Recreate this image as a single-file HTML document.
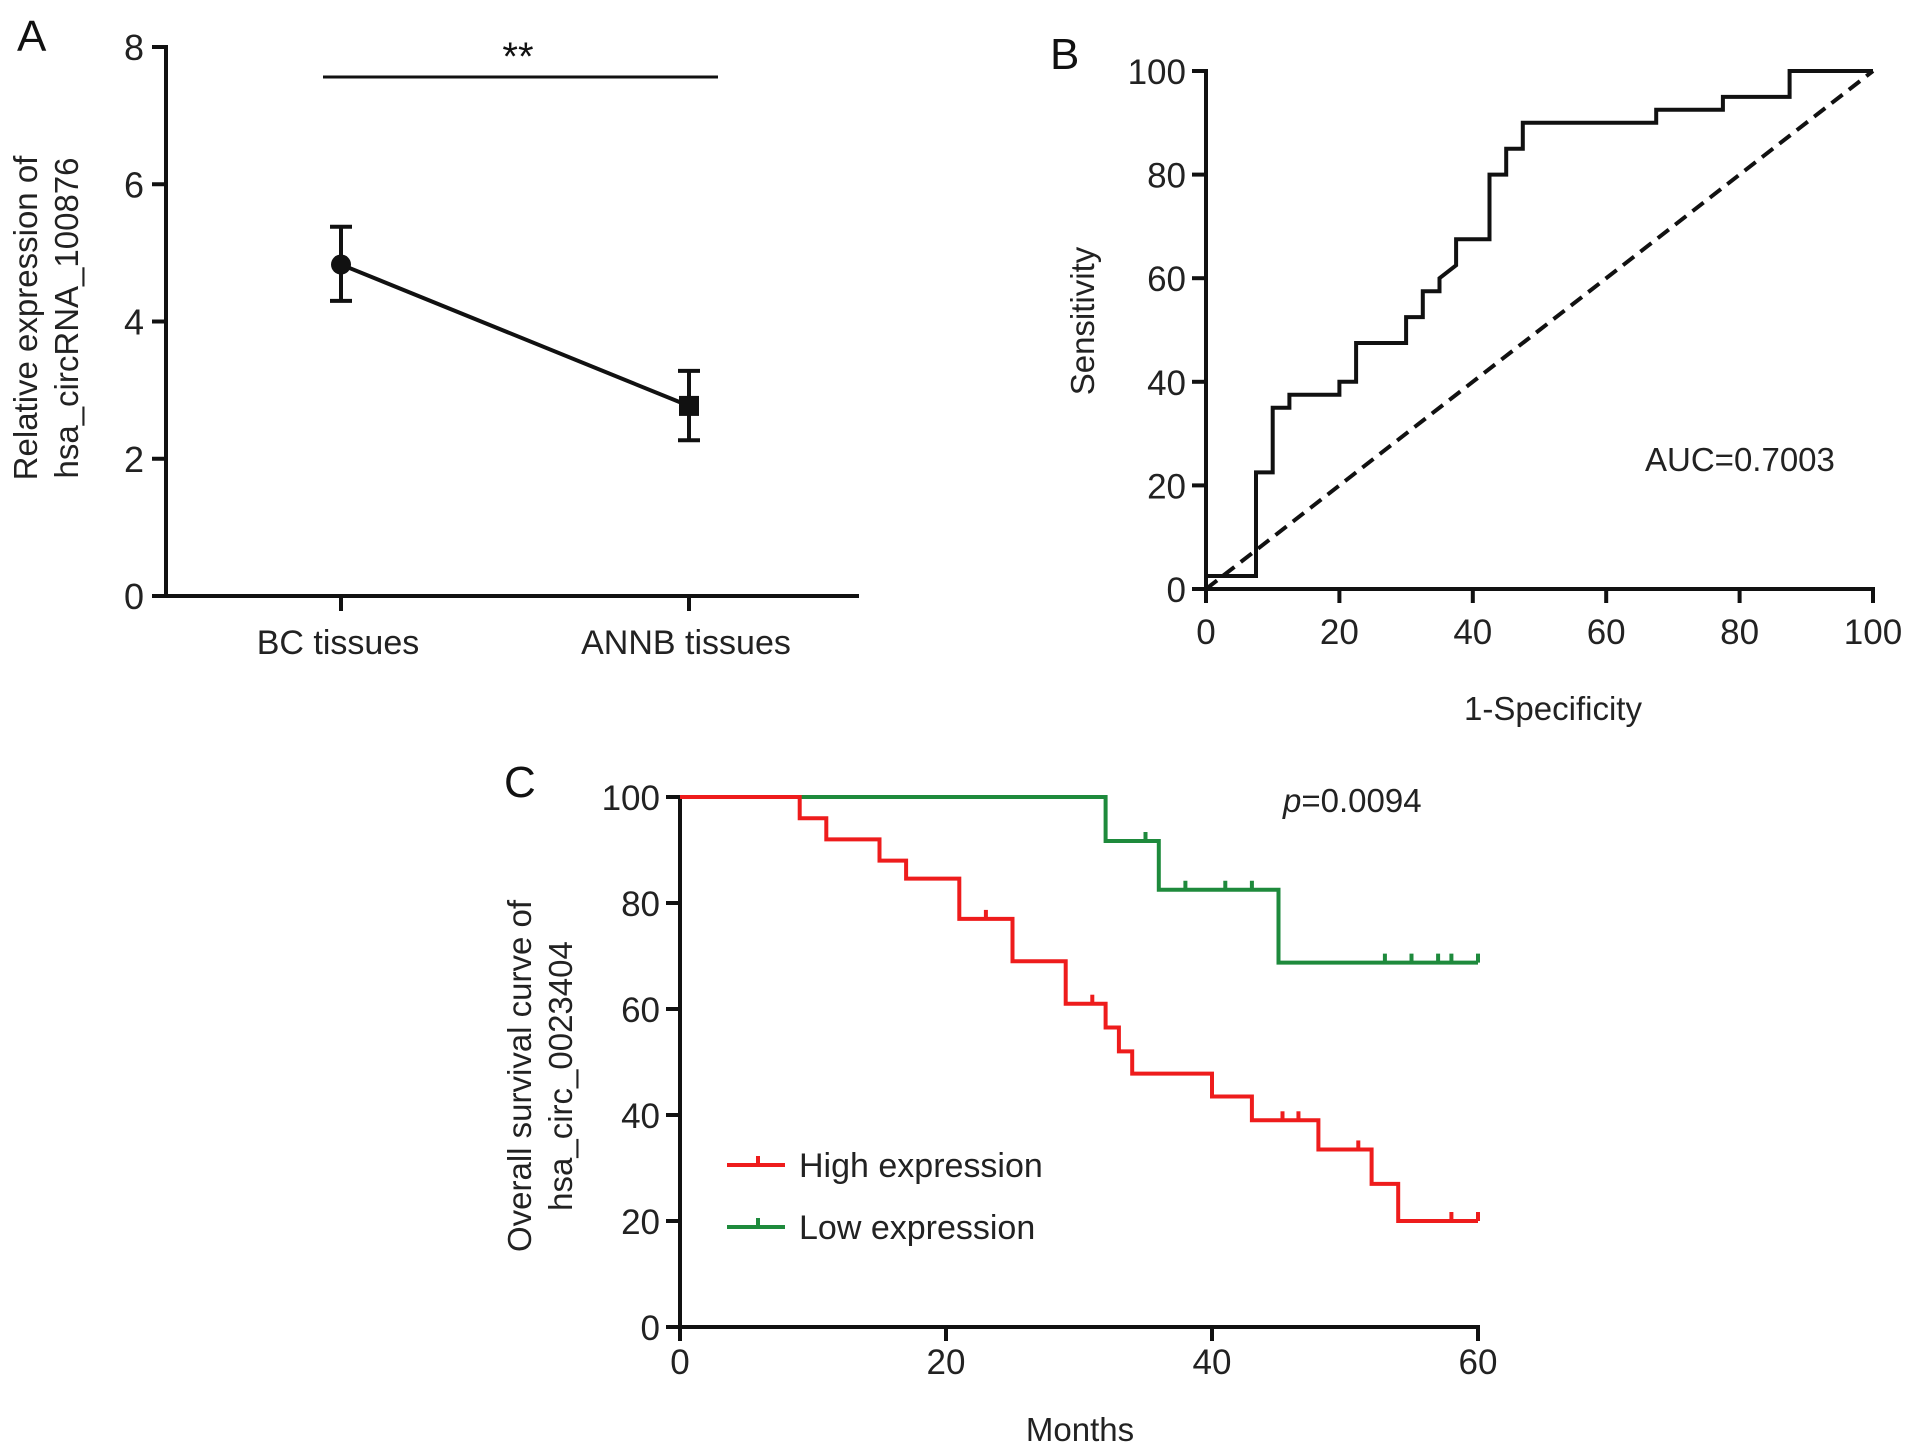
<!DOCTYPE html>
<html><head><meta charset="utf-8"><style>
html,body{margin:0;padding:0;background:#fff;overflow:hidden;}
svg{display:block;font-family:"Liberation Sans",Arial,sans-serif;}
</style></head><body>
<svg id="fig" width="1913" height="1453" viewBox="0 0 1913 1453" xmlns="http://www.w3.org/2000/svg">
<g id="gA"></g>
<g id="gB"></g>
<g id="gC"></g>
</svg>
<script>
// Panel A data
const aCategories = ["BC tissues", "ANNB tissues"];
const aMeans = [4.83, 2.77];
const aErrLow = [4.30, 2.27];
const aErrHigh = [5.38, 3.28];
const aTicks = [0, 2, 4, 6, 8];
// Panel B data
const rocFpr = [0,0,7.5,7.5,10,10,12.5,12.5,20,20,22.5,22.5,30,30,32.5,32.5,35,35,37.5,37.5,42.5,42.5,45,45,47.5,47.5,67.5,67.5,77.5,77.5,87.5,87.5,100];
const rocSens = [0,2.5,2.5,22.5,22.5,35,35,37.5,37.5,40,40,47.5,47.5,52.5,52.5,57.5,57.5,60,62.5,67.5,67.5,80,80,85,85,90,90,92.5,92.5,95,95,100,100];
const bTicks = [0, 20, 40, 60, 80, 100];
// Panel C data
const highTimes = [9, 11, 15, 17, 21, 25, 29, 32, 33, 34, 40, 43, 48, 52, 54];
const highSurv = [96, 92, 88, 84.6, 77, 69, 61, 56.5, 52, 47.8, 43.5, 39, 33.5, 27, 20];
const highCensor = [23, 31, 45.3, 46.5, 51, 58, 60];
const lowTimes = [32, 36, 45];
const lowSurv = [91.7, 82.5, 68.75];
const lowCensor = [35, 38, 41, 43, 53, 55, 57, 58, 60];
const cXTicks = [0, 20, 40, 60];
const cYTicks = [0, 20, 40, 60, 80, 100];

const NS = "http://www.w3.org/2000/svg";
function mk(parent, tag, attrs, text){
  const e = document.createElementNS(NS, tag);
  for (const k in attrs) e.setAttribute(k, attrs[k]);
  if (text !== undefined) e.textContent = text;
  parent.appendChild(e);
  return e;
}

// ---------- Panel A ----------
(function(){
  const g = document.getElementById('gA');
  const x0 = 166, yTop = 47, yBot = 596, xEnd = 859;
  const ys = v => yBot - v / 8 * (yBot - yTop);
  const catX = [341, 689];
  let t;
  t = mk(g,'text',{x:17,y:51,'font-size':44,fill:'#111'},'A');
   
  let ax = mk(g,'path',{d:`M${x0} ${yTop-2}V${yBot}H${xEnd}`,stroke:'#111','stroke-width':4,fill:'none'});
   
  aTicks.forEach(v=>{
    mk(g,'line',{x1:x0-14,x2:x0,y1:ys(v),y2:ys(v),stroke:'#111','stroke-width':4});
    const tt = mk(g,'text',{x:x0-22,y:ys(v)+13,'font-size':36,'text-anchor':'end',fill:'#222'},v);
     
  });
  aCategories.forEach((c,i)=>{
    mk(g,'line',{x1:catX[i],x2:catX[i],y1:yBot,y2:yBot+15,stroke:'#111','stroke-width':4});
    const tt = mk(g,'text',{x:catX[i]-3,y:654,'font-size':34,'text-anchor':'middle',fill:'#222'},c);
     
  });
  const yt = mk(g,'text',{transform:'translate(37,318) rotate(-90)','font-size':33,'text-anchor':'middle',fill:'#222'});
   
  mk(yt,'tspan',{x:0,y:0},'Relative expression of');
  mk(yt,'tspan',{x:0,y:41},'hsa_circRNA_100876');
  mk(g,'line',{x1:catX[0],y1:ys(aMeans[0]),x2:catX[1],y2:ys(aMeans[1]),stroke:'#111','stroke-width':4});
  aMeans.forEach((m,i)=>{
    const eb = mk(g,'path',{d:`M${catX[i]-11} ${ys(aErrHigh[i])}h22M${catX[i]} ${ys(aErrHigh[i])}V${ys(aErrLow[i])}M${catX[i]-11} ${ys(aErrLow[i])}h22`,stroke:'#111','stroke-width':4,fill:'none'});
     
  });
  const p1 = mk(g,'circle',{cx:catX[0],cy:ys(aMeans[0]),r:10,fill:'#111'});
   
  const p2 = mk(g,'rect',{x:catX[1]-10,y:ys(aMeans[1])-10,width:20,height:20,fill:'#111'});
   
  const sl = mk(g,'line',{x1:323,x2:718,y1:77,y2:77,stroke:'#111','stroke-width':3});
   
  const st = mk(g,'text',{x:518,y:70,'font-size':40,'text-anchor':'middle',fill:'#111'},'**');
   
})();

// ---------- Panel B ----------
(function(){
  const g = document.getElementById('gB');
  const x0 = 1206, x1 = 1873, yTop = 71, yBot = 589;
  const xs = v => x0 + v/100*(x1-x0);
  const ys = v => yBot - v/100*(yBot-yTop);
  let t = mk(g,'text',{x:1050,y:69,'font-size':44,fill:'#111'},'B');
   
  const ax = mk(g,'path',{d:`M${x0} ${yTop-2}V${yBot}H${x1+2}`,stroke:'#111','stroke-width':4,fill:'none'});
   
  bTicks.forEach(v=>{
    mk(g,'line',{x1:x0-14,x2:x0,y1:ys(v),y2:ys(v),stroke:'#111','stroke-width':4});
    const a = mk(g,'text',{x:x0-20,y:ys(v)+13,'font-size':35,'text-anchor':'end',fill:'#222'},v);
     
    mk(g,'line',{x1:xs(v),x2:xs(v),y1:yBot,y2:yBot+14,stroke:'#111','stroke-width':4});
    const b = mk(g,'text',{x:xs(v),y:644,'font-size':35,'text-anchor':'middle',fill:'#222'},v);
     
  });
  const yt = mk(g,'text',{transform:'translate(1094,321) rotate(-90)','font-size':33,'text-anchor':'middle',fill:'#222'},'Sensitivity');
   
  const xt = mk(g,'text',{x:1553,y:720,'font-size':33,'text-anchor':'middle',fill:'#222'},'1-Specificity');
   
  const dg = mk(g,'line',{x1:xs(0),y1:ys(0),x2:xs(100),y2:ys(100),stroke:'#111','stroke-width':4,'stroke-dasharray':'14 8'});
   
  const d = rocFpr.map((f,i)=>(i?'L':'M')+xs(f).toFixed(1)+' '+ys(rocSens[i]).toFixed(1)).join('');
  const rc = mk(g,'path',{d:d,stroke:'#111','stroke-width':4,fill:'none'});
   
  const au = mk(g,'text',{x:1645,y:471,'font-size':33,fill:'#222'},'AUC=0.7003');
   
})();

// ---------- Panel C ----------
(function(){
  const g = document.getElementById('gC');
  const x0 = 680, x1 = 1478, yTop = 797, yBot = 1327;
  const xs = v => x0 + v/60*(x1-x0);
  const ys = v => yBot - v/100*(yBot-yTop);
  let t = mk(g,'text',{x:504,y:797,'font-size':44,fill:'#111'},'C');
   
  const ax = mk(g,'path',{d:`M${x0} ${yTop-2}V${yBot}H${x1+2}`,stroke:'#111','stroke-width':4,fill:'none'});
   
  cYTicks.forEach(v=>{
    mk(g,'line',{x1:x0-14,x2:x0,y1:ys(v),y2:ys(v),stroke:'#111','stroke-width':4});
    const a = mk(g,'text',{x:x0-20,y:ys(v)+13,'font-size':35,'text-anchor':'end',fill:'#222'},v);
     
  });
  cXTicks.forEach(v=>{
    mk(g,'line',{x1:xs(v),x2:xs(v),y1:yBot,y2:yBot+14,stroke:'#111','stroke-width':4});
    const b = mk(g,'text',{x:xs(v),y:1374,'font-size':35,'text-anchor':'middle',fill:'#222'},v);
     
  });
  const yt = mk(g,'text',{transform:'translate(531,1076) rotate(-90)','font-size':33,'text-anchor':'middle',fill:'#222'});
   
  mk(yt,'tspan',{x:0,y:0},'Overall survival curve of');
  mk(yt,'tspan',{x:0,y:41},'hsa_circ_0023404');
  const xt = mk(g,'text',{x:1080,y:1441,'font-size':33,'text-anchor':'middle',fill:'#222'},'Months');
   
  function km(times, surv, censor, color, name){
    let d = `M${xs(0)} ${ys(100)}`;
    times.forEach((tm,i)=>{ d += `H${xs(tm)}V${ys(surv[i])}`; });
    d += `H${xs(60)}`;
    const p = mk(g,'path',{d:d,stroke:color,'stroke-width':4,fill:'none'});
    
    
    censor.forEach(c=>{
      let sv = 100;
      times.forEach((tm,i)=>{ if (tm <= c) sv = surv[i]; });
      const m = mk(g,'line',{x1:xs(c),x2:xs(c),y1:ys(sv)-9,y2:ys(sv),stroke:color,'stroke-width':4});
      
      
    });
  }
  km(lowTimes, lowSurv, lowCensor, '#1e8a3c', 'low-expression-curve');
  km(highTimes, highSurv, highCensor, '#ee1c1c', 'high-expression-curve');
  const pv = mk(g,'text',{x:1283,y:812,'font-size':33,fill:'#222'});
   
  mk(pv,'tspan',{'font-style':'italic'},'p');
  mk(pv,'tspan',{},'=0.0094');
  const legend = [['High expression','#ee1c1c',1165],['Low expression','#1e8a3c',1227]];
  legend.forEach(l=>{
    const lg = mk(g,'g',{});
     
    mk(lg,'path',{d:`M727 ${l[2]}H785M758 ${l[2]-9}V${l[2]}`,stroke:l[1],'stroke-width':4,fill:'none'});
    mk(lg,'text',{x:799,y:l[2]+12,'font-size':34,fill:'#222'},l[0]);
  });
})();
</script>
</body></html>
